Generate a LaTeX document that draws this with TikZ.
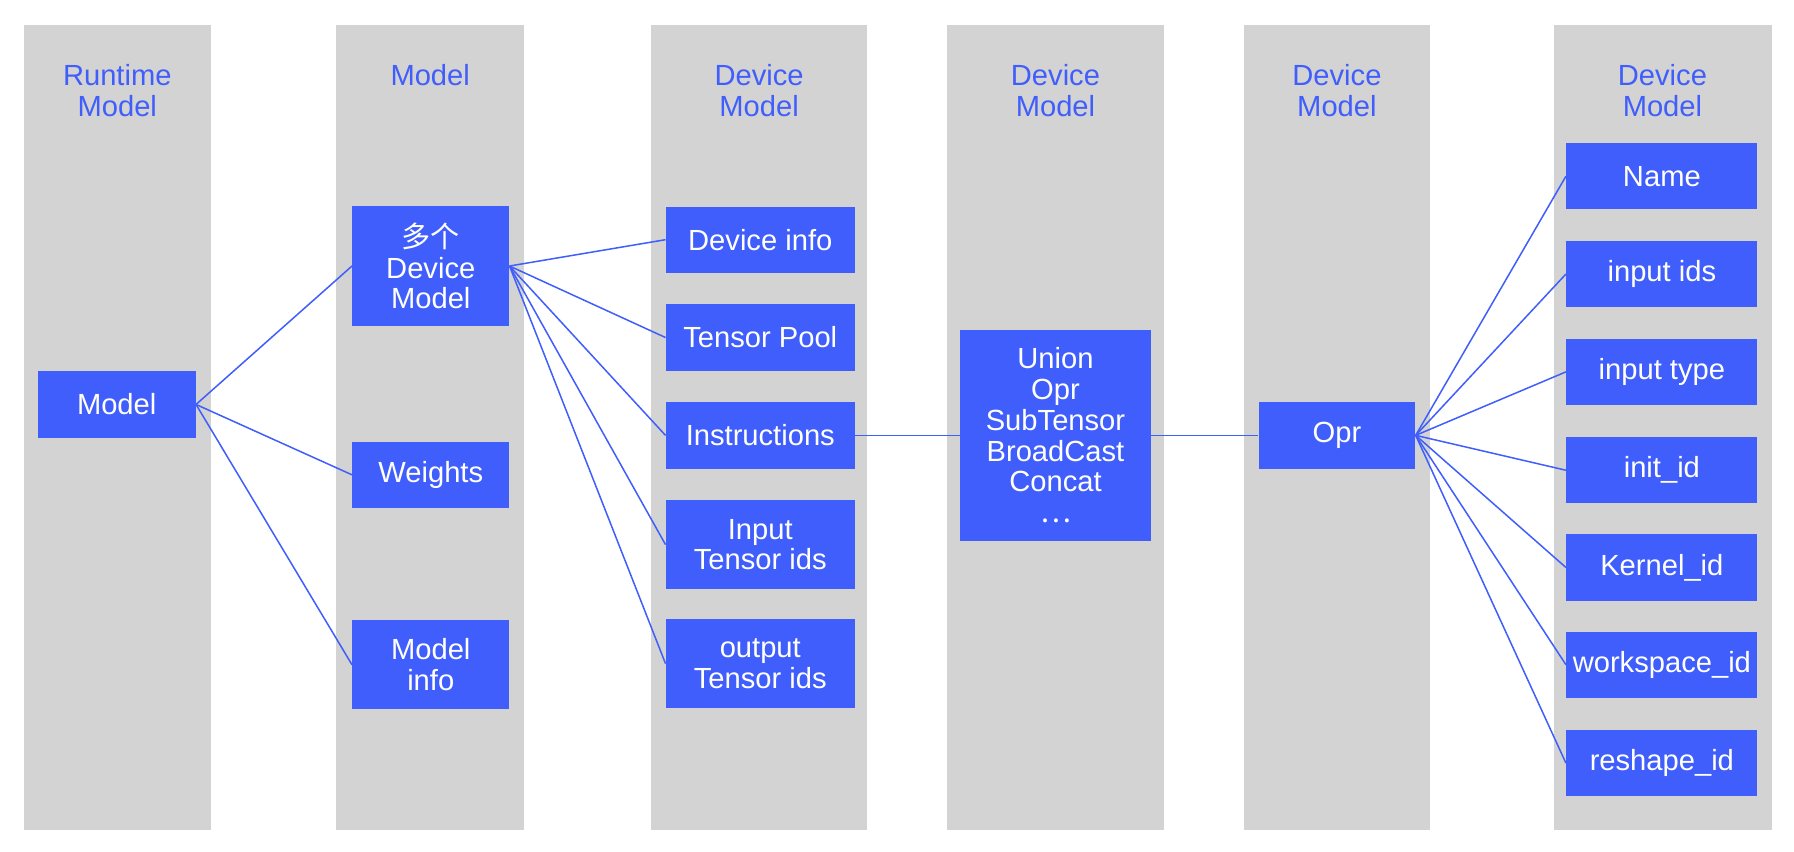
\documentclass[tikz,border=0pt]{standalone}
\usepackage{fontspec}
\setmainfont{Liberation Sans}
\newfontfamily\cjk{Noto Sans CJK SC}
\definecolor{colgray}{RGB}{211,211,211}
\definecolor{boxblue}{RGB}{64,94,251}
\begin{document}
\begin{tikzpicture}[x=0.02cm,y=-0.02cm,
	blk/.style={fill=boxblue,text=white,inner sep=0pt,align=center,minimum height=1.16cm,font=\fontsize{14.5}{15.3}\selectfont},
	hd/.style={text=boxblue,align=center,font=\fontsize{14.5}{15.5}\selectfont},
	ln/.style={draw=boxblue,line width=0.75pt}]
	\useasboundingbox (0,0) rectangle (1568,744);
	% 灰色背景列
	\foreach \l/\r in {21/184,294/458,569/758,828/1017,1087/1250,1358/1549}
	\fill[colgray] (\l,22) rectangle (\r,725);
	% 列标题
	\node[hd] (h1) at (102.5,79.5) {Runtime\\Model};
	\node[hd] (h2) at (376,66) {Model};
	\node[hd] (h3) at (663.5,79.5) {Device\\Model};
	\node[hd] (h4) at (922.5,79.5) {Device\\Model};
	\node[hd] (h5) at (1168.5,79.5) {Device\\Model};
	\node[hd] (h6) at (1453,79.5) {Device\\Model};
	% 方框
	\node[blk,minimum width=2.76cm] (mdl) at (102,353.5) {Model};
	\node[blk,minimum width=2.74cm,minimum height=2.1cm] (dm) at (376.5,232.5) {{\cjk 多个}\\Device\\Model};
	\node[blk,minimum width=2.74cm] (wts) at (376.5,415) {Weights};
	\node[blk,minimum width=2.74cm,minimum height=1.56cm] (minfo) at (376.5,581) {Model\\info};
	\node[blk,minimum width=3.3cm] (dinfo) at (664.5,209.5) {Device info};
	\node[blk,minimum width=3.3cm] (tpool) at (664.5,295) {Tensor Pool};
	\node[blk,minimum width=3.3cm] (instr) at (664.5,380.5) {Instructions};
	\node[blk,minimum width=3.3cm,minimum height=1.56cm] (intid) at (664.5,476) {Input\\Tensor ids};
	\node[blk,minimum width=3.3cm,minimum height=1.56cm] (outid) at (664.5,580) {output\\Tensor ids};
	\node[blk,minimum width=3.34cm,minimum height=3.7cm] (ops) at (922.5,380.5) {Union\\Opr\\SubTensor\\BroadCast\\Concat\\{\cjk …}};
	\node[blk,minimum width=2.74cm] (opr) at (1168.5,380.5) {Opr};
	\node[blk,minimum width=3.34cm] (name) at (1452.5,154) {Name};
	\node[blk,minimum width=3.34cm] (inids) at (1452.5,239.5) {input ids};
	\node[blk,minimum width=3.34cm] (intype) at (1452.5,325) {input type};
	\node[blk,minimum width=3.34cm] (initid) at (1452.5,411) {init\_id};
	\node[blk,minimum width=3.34cm] (kerid) at (1452.5,496) {Kernel\_id};
	\node[blk,minimum width=3.34cm] (wsid) at (1452.5,581) {workspace\_id};
	\node[blk,minimum width=3.34cm] (rsid) at (1452.5,667) {reshape\_id};
	% 连线
	\foreach \t in {dm,wts,minfo}
	\draw[ln] (mdl.east)--(\t.west);
	\foreach \t in {dinfo,tpool,instr,intid,outid}
	\draw[ln] (dm.east)--(\t.west);
	\draw[ln] (instr.east)--(ops.west);
	\draw[ln] (ops.east)--(opr.west);
	\foreach \t in {name,inids,intype,initid,kerid,wsid,rsid}
	\draw[ln] (opr.east)--(\t.west);
\end{tikzpicture}
\end{document}
